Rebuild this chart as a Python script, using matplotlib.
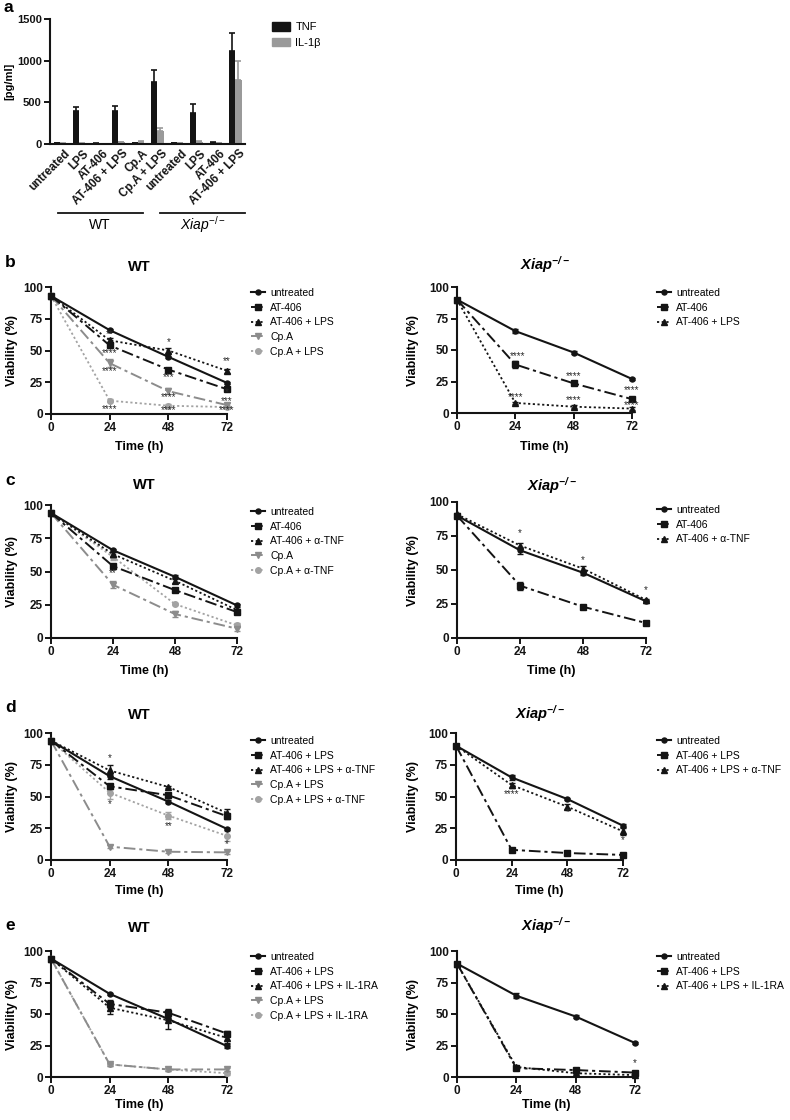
import matplotlib
matplotlib.use('Agg')
import matplotlib.pyplot as plt
from matplotlib.patches import Patch
from matplotlib.lines import Line2D
from matplotlib.transforms import ScaledTranslation

plt.rcParams['font.family'] = ['Liberation Sans', 'DejaVu Sans']
plt.rcParams['mathtext.fontset'] = 'custom'
plt.rcParams['mathtext.rm'] = 'Liberation Sans'
plt.rcParams['mathtext.it'] = 'Liberation Sans:italic'
plt.rcParams['mathtext.bf'] = 'Liberation Sans:bold'
try:
    plt.rcParams['mathtext.bfit'] = 'Liberation Sans:italic:bold'
    BFIT = True
except Exception:
    BFIT = False

# ---------------- data ----------------
a_categories = ['untreated', 'LPS', 'AT-406', 'AT-406 + LPS', 'Cp.A', 'Cp.A + LPS',
                'untreated', 'LPS', 'AT-406', 'AT-406 + LPS']
a_tnf = [12, 400, 5, 400, 12, 740, 8, 370, 15, 1120]
a_tnf_err = [4, 45, 2, 60, 4, 150, 3, 105, 6, 215]
a_il1b = [5, 5, 3, 20, 25, 155, 8, 30, 8, 770]
a_il1b_err = [2, 2, 1, 6, 8, 35, 3, 10, 3, 230]
a_yticks = [0, 500, 1000, 1500]

time_h = [0, 24, 48, 72]
viab_ticks = [0, 25, 50, 75, 100]

# panel b
b_wt_untreated = [93, 66, 45, 24.5]
b_wt_untreated_err = [1, 1, 1, 1]
b_wt_at406 = [93, 54, 35, 19.5]
b_wt_at406_err = [1, 2, 1, 1.5]
b_wt_at406_lps = [93, 58, 50, 34]
b_wt_at406_lps_err = [1, 2, 2, 1.5]
b_wt_cpa = [93, 40, 18, 7]
b_wt_cpa_err = [1, 3, 2.5, 1.5]
b_wt_cpa_lps = [93, 10.5, 6.5, 5.5]
b_wt_cpa_lps_err = [1, 1, 1, 1]
b_wt_stars = [(24, 63, '**'), (24, 48, '****'), (24, 34, '****'), (24, 4, '****'),
              (48, 57, '*'), (48, 29, '***'), (48, 13, '****'), (48, 3, '****'),
              (72, 42, '**'), (72, 17, '*'), (72, 10.5, '***'), (72, 3, '****')]

b_xi_untreated = [90, 65, 48, 27]
b_xi_untreated_err = [1, 1.5, 1, 1]
b_xi_at406 = [90, 38.5, 23.5, 11]
b_xi_at406_err = [1, 3, 1, 1]
b_xi_at406_lps = [90, 8, 5, 3.5]
b_xi_at406_lps_err = [1, 1, 1, 1]
b_xi_stars = [(25, 45, '****'), (24, 13, '****'), (48, 29, '****'), (48, 10, '****'),
              (72, 18, '****'), (72, 6.5, '****')]

# panel c
c_wt_untreated = [94, 66, 46, 24.5]
c_wt_untreated_err = [1, 1, 1, 1]
c_wt_at406 = [94, 54, 36, 19.5]
c_wt_at406_err = [1, 2, 1, 1.5]
c_wt_at406_tnf = [94, 63, 43, 21]
c_wt_at406_tnf_err = [1, 2, 1.5, 1]
c_wt_cpa = [94, 40, 18, 7]
c_wt_cpa_err = [1, 2.5, 2.5, 1.5]
c_wt_cpa_tnf = [94, 61, 25.5, 9.5]
c_wt_cpa_tnf_err = [1, 2, 1, 1.5]
c_wt_stars = [(24, 49, '**')]

c_xi_untreated = [90, 64.5, 48, 27]
c_xi_untreated_err = [1, 2.5, 1.5, 1]
c_xi_at406 = [90, 38.5, 23, 11]
c_xi_at406_err = [1, 3, 1, 1]
c_xi_at406_tnf = [91, 68, 51, 28]
c_xi_at406_tnf_err = [1, 2, 2, 1]
c_xi_stars = [(24, 77, '*'), (48, 57, '*'), (72, 35, '*')]

# panel d
d_wt_untreated = [94, 66, 46, 24.5]
d_wt_untreated_err = [1, 2, 1, 1]
d_wt_at406_lps = [94, 58, 51, 34.5]
d_wt_at406_lps_err = [1, 2, 2, 2]
d_wt_at406_lps_tnf = [94, 70.5, 57.5, 37]
d_wt_at406_lps_tnf_err = [1, 4, 1, 3]
d_wt_cpa_lps = [94, 10.5, 6.5, 6]
d_wt_cpa_lps_err = [1, 1, 1, 1]
d_wt_cpa_lps_tnf = [94, 53, 35, 19]
d_wt_cpa_lps_tnf_err = [1, 5, 3, 4]
d_wt_stars = [(24, 80, '*'), (24, 44, '*'), (48, 27, '**'), (72, 12.5, '*')]

d_xi_untreated = [90, 65, 48, 27]
d_xi_untreated_err = [1, 2, 1, 1]
d_xi_at406_lps = [90, 8, 5.5, 4]
d_xi_at406_lps_err = [1, 1, 1, 1]
d_xi_at406_lps_tnf = [90, 59, 42, 22.5]
d_xi_at406_lps_tnf_err = [1, 2, 2, 3]
d_xi_stars = [(24, 52, '****'), (48, 38, '*'), (72, 16, '*')]

# panel e
e_wt_untreated = [94, 66, 46, 24.5]
e_wt_untreated_err = [1, 1, 1, 1.5]
e_wt_at406_lps = [94, 58, 51, 34.5]
e_wt_at406_lps_err = [1, 3, 3, 2]
e_wt_at406_lps_il1ra = [94, 55, 45, 31]
e_wt_at406_lps_il1ra_err = [1, 5, 7, 4]
e_wt_cpa_lps = [94, 10, 6, 6]
e_wt_cpa_lps_err = [1, 1, 1, 1.5]
e_wt_cpa_lps_il1ra = [94, 10, 6, 3]
e_wt_cpa_lps_il1ra_err = [1, 1, 1, 1.5]
e_wt_stars = []

e_xi_untreated = [90, 64.5, 48, 27]
e_xi_untreated_err = [1, 2, 1, 1]
e_xi_at406_lps = [90, 7, 5.5, 3.5]
e_xi_at406_lps_err = [1, 1, 1, 1]
e_xi_at406_lps_il1ra = [90, 8, 3, 1.5]
e_xi_at406_lps_il1ra_err = [1, 1, 1, 1]
e_xi_stars = [(72, 11, '*')]

# ---------------- styles ----------------
BLACK = '#141414'
GRAY1 = '#8c8c8c'
GRAY2 = '#a3a3a3'
DASHDOT = (0, (6, 2, 1.6, 2))
DOTTED = (0, (1.2, 1.4))
STYLE = {
    'untreated': dict(color=BLACK, ls='-', marker='o', ms=3.6, lw=1.5),
    'at': dict(color=BLACK, ls=DASHDOT, marker='s', ms=4.2, lw=1.4),
    'atx': dict(color=BLACK, ls=DOTTED, marker='^', ms=4.0, lw=1.3),
    'cpa': dict(color=GRAY1, ls=DASHDOT, marker='v', ms=4.0, lw=1.4),
    'cpax': dict(color=GRAY2, ls=DOTTED, marker='o', ms=4.0, lw=1.3),
}

W, H = 790, 1120
fig = plt.figure(figsize=(W / 100, H / 100), dpi=100)


def rect(l, t, r, b):
    return [l / W, 1 - b / H, (r - l) / W, (b - t) / H]


def fx(x):
    return x / W


def fy(y):
    return 1 - y / H


def style_axes(ax):
    for s in ['top', 'right']:
        ax.spines[s].set_visible(False)
    for s in ['left', 'bottom']:
        ax.spines[s].set_linewidth(1.5)
        ax.spines[s].set_color(BLACK)
    ax.tick_params(direction='out', length=4, width=1.4, labelsize=8.5, pad=2,
                   colors=BLACK)
    for lbl in ax.get_xticklabels() + ax.get_yticklabels():
        lbl.set_fontweight('bold')


# panel labels
for lab, (x, y) in {'a': (4, 8), 'b': (5, 262), 'c': (5, 481), 'd': (5, 708), 'e': (5, 926)}.items():
    fig.text(fx(x), fy(y), lab, fontsize=12.5, fontweight='bold', ha='left', va='center')

# ---------------- panel a ----------------
box = (50, 19, 245, 144)
axa = fig.add_axes(rect(*box))
xs = list(range(len(a_categories)))
bw = 0.33
axa.bar([x - bw / 2 for x in xs], a_tnf, width=bw, color=BLACK, label='TNF',
        yerr=[[0] * len(a_tnf), a_tnf_err], error_kw=dict(ecolor=BLACK, elinewidth=1.2, capsize=2, capthick=1.2))
axa.bar([x + bw / 2 for x in xs], a_il1b, width=bw, color='#9a9a9a', label='IL-1β',
        yerr=[[0] * len(a_il1b), a_il1b_err], error_kw=dict(ecolor='#9a9a9a', elinewidth=1.2, capsize=2, capthick=1.2))
axa.set_xlim(-0.5, 9.5)
axa.set_ylim(0, 1500)
axa.set_yticks(a_yticks)
axa.set_xticks(xs)
axa.set_xticklabels(a_categories, rotation=45, ha='right', va='center_baseline',
                    rotation_mode='anchor')
style_axes(axa)
axa.tick_params(axis='y', labelsize=8)
axa.tick_params(axis='x', length=0, pad=5, labelsize=8.3)
for lbl in axa.get_xticklabels():
    lbl.set_transform(lbl.get_transform() + ScaledTranslation(7 / 100, 0, fig.dpi_scale_trans))
axa.set_ylabel('[pg/ml]', fontsize=8, fontweight='bold')
axa.yaxis.set_label_coords((14 - 50) / 195, 0.5)
fig.legend(handles=[Patch(color=BLACK), Patch(color='#9a9a9a')], labels=['TNF', 'IL-1β'],
           loc='upper left', bbox_to_anchor=(fx(272), fy(22)), frameon=False, fontsize=8,
           handlelength=1.6, handleheight=0.8, handletextpad=0.5, labelspacing=0.5,
           borderpad=0, borderaxespad=0)
# group lines
for x0, x1, txt, xc in [(58, 143, 'WT', 100), (160, 245, r'$\mathit{Xiap}^{-/-}$', 203)]:
    fig.add_artist(Line2D([fx(x0), fx(x1)], [fy(213), fy(213)], color=BLACK, lw=1.3))
    fig.text(fx(xc), fy(225), txt, ha='center', va='center', fontsize=10)


# ---------------- line panels ----------------
def xiap_title():
    if BFIT:
        return r'$\mathbfit{Xiap}^{\mathbfit{-/-}}$'
    return r'$\mathit{Xiap}^{-/-}$'


def line_panel(box, series, stars, title, title_y, legend_xy, xlabel_y, ylabel_x):
    l, t, r, b = box
    ax = fig.add_axes(rect(*box))
    z = 10
    for label, vals, errs, key in series:
        st = STYLE[key]
        ax.errorbar(time_h, vals, yerr=errs, fmt='none', ecolor=st['color'], elinewidth=1.0,
                    capsize=2.2, capthick=1.0, clip_on=False, zorder=z)
        ax.plot(time_h, vals, color=st['color'], ls=st['ls'], lw=st['lw'], marker=st['marker'],
                ms=st['ms'], mec=st['color'], mfc=st['color'], label=label, clip_on=False, zorder=z)
        z -= 1
    for (x, y, s) in stars:
        ax.text(x, y, s, ha='center', va='center', fontsize=7, color='#2a2a2a', zorder=20)
    ax.set_xlim(0, 72)
    ax.set_ylim(0, 100)
    ax.set_xticks(time_h)
    ax.set_yticks(viab_ticks)
    style_axes(ax)
    ax.set_xlabel('Time (h)', fontsize=9, fontweight='bold')
    ax.set_ylabel('Viability (%)', fontsize=9, fontweight='bold')
    # label coords given as text centres; convert to the anchored edges
    ax.xaxis.set_label_coords(0.5, -(xlabel_y - 6 - b) / (b - t))
    ax.yaxis.set_label_coords((ylabel_x + 6 - l) / (r - l), 0.5)
    if title == 'WT':
        fig.text(fx((l + r) / 2), fy(title_y), 'WT', ha='center', va='center', fontsize=10.5,
                 fontweight='bold')
    else:
        fig.text(fx((l + r) / 2), fy(title_y), xiap_title(), ha='center', va='center', fontsize=10.5)
    handles, labels = ax.get_legend_handles_labels()
    fig.legend(handles, labels, loc='upper left', bbox_to_anchor=(fx(legend_xy[0]), fy(legend_xy[1])),
               frameon=False, fontsize=7.5, handlelength=1.35, handletextpad=0.5,
               labelspacing=0.45, borderpad=0, borderaxespad=0)
    return ax


line_panel((51, 287, 227, 414),
           [('untreated', b_wt_untreated, b_wt_untreated_err, 'untreated'),
            ('AT-406', b_wt_at406, b_wt_at406_err, 'at'),
            ('AT-406 + LPS', b_wt_at406_lps, b_wt_at406_lps_err, 'atx'),
            ('Cp.A', b_wt_cpa, b_wt_cpa_err, 'cpa'),
            ('Cp.A + LPS', b_wt_cpa_lps, b_wt_cpa_lps_err, 'cpax')],
           b_wt_stars, 'WT', 267, (251, 288), 447, 12)
line_panel((457, 287, 632, 413),
           [('untreated', b_xi_untreated, b_xi_untreated_err, 'untreated'),
            ('AT-406', b_xi_at406, b_xi_at406_err, 'at'),
            ('AT-406 + LPS', b_xi_at406_lps, b_xi_at406_lps_err, 'atx')],
           b_xi_stars, 'Xiap', 265, (657, 288), 447, 413)

line_panel((51, 505, 237, 638),
           [('untreated', c_wt_untreated, c_wt_untreated_err, 'untreated'),
            ('AT-406', c_wt_at406, c_wt_at406_err, 'at'),
            ('AT-406 + α-TNF', c_wt_at406_tnf, c_wt_at406_tnf_err, 'atx'),
            ('Cp.A', c_wt_cpa, c_wt_cpa_err, 'cpa'),
            ('Cp.A + α-TNF', c_wt_cpa_tnf, c_wt_cpa_tnf_err, 'cpax')],
           c_wt_stars, 'WT', 485, (251, 507), 671, 12)
line_panel((457, 502, 646, 638),
           [('untreated', c_xi_untreated, c_xi_untreated_err, 'untreated'),
            ('AT-406', c_xi_at406, c_xi_at406_err, 'at'),
            ('AT-406 + α-TNF', c_xi_at406_tnf, c_xi_at406_tnf_err, 'atx')],
           c_xi_stars, 'Xiap', 486, (657, 505), 671, 413)

line_panel((51, 733, 227, 860),
           [('untreated', d_wt_untreated, d_wt_untreated_err, 'untreated'),
            ('AT-406 + LPS', d_wt_at406_lps, d_wt_at406_lps_err, 'at'),
            ('AT-406 + LPS + α-TNF', d_wt_at406_lps_tnf, d_wt_at406_lps_tnf_err, 'atx'),
            ('Cp.A + LPS', d_wt_cpa_lps, d_wt_cpa_lps_err, 'cpa'),
            ('Cp.A + LPS + α-TNF', d_wt_cpa_lps_tnf, d_wt_cpa_lps_tnf_err, 'cpax')],
           d_wt_stars, 'WT', 715, (251, 736), 891, 12)
line_panel((456, 733, 623, 860),
           [('untreated', d_xi_untreated, d_xi_untreated_err, 'untreated'),
            ('AT-406 + LPS', d_xi_at406_lps, d_xi_at406_lps_err, 'at'),
            ('AT-406 + LPS + α-TNF', d_xi_at406_lps_tnf, d_xi_at406_lps_tnf_err, 'atx')],
           d_xi_stars, 'Xiap', 714, (657, 736), 891, 413)

line_panel((51, 951, 227, 1077),
           [('untreated', e_wt_untreated, e_wt_untreated_err, 'untreated'),
            ('AT-406 + LPS', e_wt_at406_lps, e_wt_at406_lps_err, 'at'),
            ('AT-406 + LPS + IL-1RA', e_wt_at406_lps_il1ra, e_wt_at406_lps_il1ra_err, 'atx'),
            ('Cp.A + LPS', e_wt_cpa_lps, e_wt_cpa_lps_err, 'cpa'),
            ('Cp.A + LPS + IL-1RA', e_wt_cpa_lps_il1ra, e_wt_cpa_lps_il1ra_err, 'cpax')],
           e_wt_stars, 'WT', 928, (251, 952), 1105, 12)
line_panel((457, 951, 635, 1077),
           [('untreated', e_xi_untreated, e_xi_untreated_err, 'untreated'),
            ('AT-406 + LPS', e_xi_at406_lps, e_xi_at406_lps_err, 'at'),
            ('AT-406 + LPS + IL-1RA', e_xi_at406_lps_il1ra, e_xi_at406_lps_il1ra_err, 'atx')],
           e_xi_stars, 'Xiap', 926, (657, 952), 1105, 413)

fig.savefig('out.png', dpi=100)
